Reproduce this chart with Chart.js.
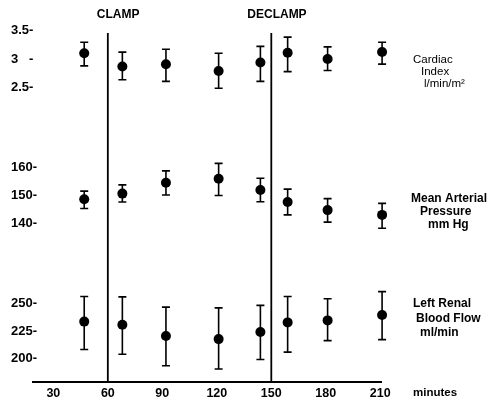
<!DOCTYPE html>
<html>
<head>
<meta charset="utf-8">
<script src="https://cdn.jsdelivr.net/npm/chart.js@4.4.1/dist/chart.umd.min.js"></script>
<style>
  html, body { margin: 0; padding: 0; background: #fff; }
  canvas { display: block; }
</style>
</head>
<body>
<canvas id="chart" width="490" height="404"></canvas>
<script>
// sample times (minutes) and x axis ticks
const minutes = [47, 68, 92, 121, 144, 159, 181, 211];
const minuteTicks = [30, 60, 90, 120, 150, 180, 210];
const clampAt = 60;
const declampAt = 150;

// Cardiac index, l/min/m2
const cardiacIndex = [3.10, 2.87, 2.91, 2.79, 2.94, 3.11, 3.00, 3.12];
const cardiacHigh  = [3.29, 3.12, 3.17, 3.10, 3.22, 3.38, 3.21, 3.29];
const cardiacLow   = [2.88, 2.64, 2.61, 2.49, 2.61, 2.78, 2.80, 2.91];
const cardiacTicks = [2.5, 3, 3.5];
const cardiacTickLabels = ['2.5-', '3   -', '3.5-'];

// Mean arterial pressure, mm Hg
const pressure     = [148.5, 150.5, 154.4, 155.8, 151.8, 147.5, 144.6, 142.9];
const pressureHigh = [151.4, 153.6, 158.6, 161.3, 156.0, 152.1, 148.7, 147.0];
const pressureLow  = [145.2, 147.5, 150.0, 149.8, 147.6, 142.9, 140.3, 138.1];
const pressureTicks = [140, 150, 160];
const pressureTickLabels = ['140-', '150-', '160-'];

// Left renal blood flow, ml/min
const renalFlow     = [233.5, 230.7, 220.4, 217.6, 224.1, 232.8, 234.6, 239.5];
const renalFlowHigh = [256.4, 256.0, 246.7, 246.0, 248.3, 256.4, 254.3, 260.8];
const renalFlowLow  = [208.1, 203.8, 193.4, 190.4, 199.0, 205.8, 216.2, 217.1];
const renalTicks = [200, 225, 250];
const renalTickLabels = ['200-', '225-', '250-'];

const eventLabels = ['CLAMP', 'DECLAMP'];
const cardiacTitle = ['Cardiac', 'Index', 'l/min/m\u00B2'];
const pressureTitle = ['Mean Arterial', 'Pressure', 'mm Hg'];
const renalTitle = ['Left Renal', 'Blood Flow', 'ml/min'];
const xTitle = 'minutes';

const FONT = "'Liberation Sans', Arial, sans-serif";
Chart.defaults.font.family = FONT;
Chart.defaults.color = '#000';

function series(values, low, high, axisId) {
    return {
        data: values.map((v, i) => ({ x: minutes[i], y: v })),
        errLow: low,
        errHigh: high,
        yAxisID: axisId,
        pointRadius: 5,
        pointHoverRadius: 5,
        pointBackgroundColor: '#000',
        pointBorderWidth: 0,
        clip: false
    };
}

function panelAxis(min, max, ticks, labels, weight, stackWeight) {
    return {
        type: 'linear',
        position: 'left',
        stack: 'panels',
        stackWeight: stackWeight,
        weight: weight,
        min: min,
        max: max,
        grid: { display: false, drawTicks: false },
        border: { display: false },
        afterBuildTicks: s => { s.ticks = ticks.map(v => ({ value: v })); },
        afterFit: s => { s.width = 33; },
        ticks: {
            autoSkip: false,
            mirror: true,      // left aligned labels, not clipped to the axis box
            padding: -22,
            font: { size: 13, weight: 'bold' },
            callback: (v, i) => labels[i]
        }
    };
}

function drawLines(ctx, lines, x0, y0, step, indents, font) {
    ctx.font = font;
    lines.forEach((t, i) => ctx.fillText(t, x0 + indents[i], y0 + i * step));
}

const annotations = {
    id: 'annotations',
    beforeDraw(chart) {
        const ctx = chart.ctx;
        ctx.save();
        ctx.fillStyle = '#fff';
        ctx.fillRect(0, 0, chart.width, chart.height);
        ctx.restore();
    },
    beforeDatasetsDraw(chart) {
        const { ctx, chartArea, scales } = chart;
        ctx.save();
        ctx.strokeStyle = '#000';

        // clamp / declamp lines
        ctx.lineWidth = 1.8;
        [clampAt, declampAt].forEach(t => {
            const px = scales.x.getPixelForValue(t);
            ctx.beginPath();
            ctx.moveTo(px, chartArea.top + 8);
            ctx.lineTo(px, chartArea.bottom);
            ctx.stroke();
        });

        // error bars
        ctx.lineWidth = 1.6;
        chart.data.datasets.forEach(ds => {
            const yScale = scales[ds.yAxisID];
            ds.data.forEach((p, i) => {
                const px = scales.x.getPixelForValue(p.x);
                const top = yScale.getPixelForValue(ds.errHigh[i]);
                const bottom = yScale.getPixelForValue(ds.errLow[i]);
                ctx.beginPath();
                ctx.moveTo(px, top);
                ctx.lineTo(px, bottom);
                ctx.moveTo(px - 4, top);
                ctx.lineTo(px + 4, top);
                ctx.moveTo(px - 4, bottom);
                ctx.lineTo(px + 4, bottom);
                ctx.stroke();
            });
        });
        ctx.restore();
    },
    afterDraw(chart) {
        const { ctx, scales } = chart;
        ctx.save();
        ctx.fillStyle = '#000';
        ctx.textAlign = 'left';
        ctx.textBaseline = 'middle';

        ctx.font = 'bold 12px ' + FONT;
        ctx.fillText(eventLabels[0], scales.x.getPixelForValue(clampAt) - 11, 15);
        ctx.fillText(eventLabels[1], scales.x.getPixelForValue(declampAt) - 24, 15);

        drawLines(ctx, cardiacTitle, 413, 60, 12, [0, 8, 11], '11.5px ' + FONT);
        drawLines(ctx, pressureTitle, 411, 199, 13, [0, 9, 17], 'bold 12px ' + FONT);
        drawLines(ctx, renalTitle, 413, 304, 14.5, [0, 3, 7], 'bold 12px ' + FONT);

        ctx.font = 'bold 11.5px ' + FONT;
        ctx.fillText(xTitle, 413, 393);
        ctx.restore();
    }
};

new Chart(document.getElementById('chart').getContext('2d'), {
    type: 'scatter',
    data: {
        datasets: [
            series(renalFlow, renalFlowLow, renalFlowHigh, 'yRenal'),
            series(pressure, pressureLow, pressureHigh, 'yPressure'),
            series(cardiacIndex, cardiacLow, cardiacHigh, 'yCardiac')
        ]
    },
    options: {
        responsive: false,
        animation: false,
        layout: { padding: { top: 25, right: 109, bottom: 0, left: 0 } },
        plugins: {
            legend: { display: false },
            tooltip: { enabled: false }
        },
        scales: {
            x: {
                type: 'linear',
                min: 18.8,
                max: 210.4,
                grid: { display: false, drawTicks: false },
                border: { color: '#000', width: 2 },
                afterBuildTicks: s => { s.ticks = minuteTicks.map(v => ({ value: v })); },
                afterFit: s => { s.height = 22; },
                ticks: {
                    autoSkip: false,
                    maxRotation: 0,
                    padding: 4,
                    font: { size: 12.5, weight: 'bold' }
                }
            },
            yRenal: panelAxis(178.6, 287.7, renalTicks, renalTickLabels, 1, 120),
            yPressure: panelAxis(126.07, 173.93, pressureTicks, pressureTickLabels, 2, 134),
            yCardiac: panelAxis(1.8, 3.591, cardiacTicks, cardiacTickLabels, 3, 103)
        }
    },
    plugins: [annotations]
});
</script>
</body>
</html>
